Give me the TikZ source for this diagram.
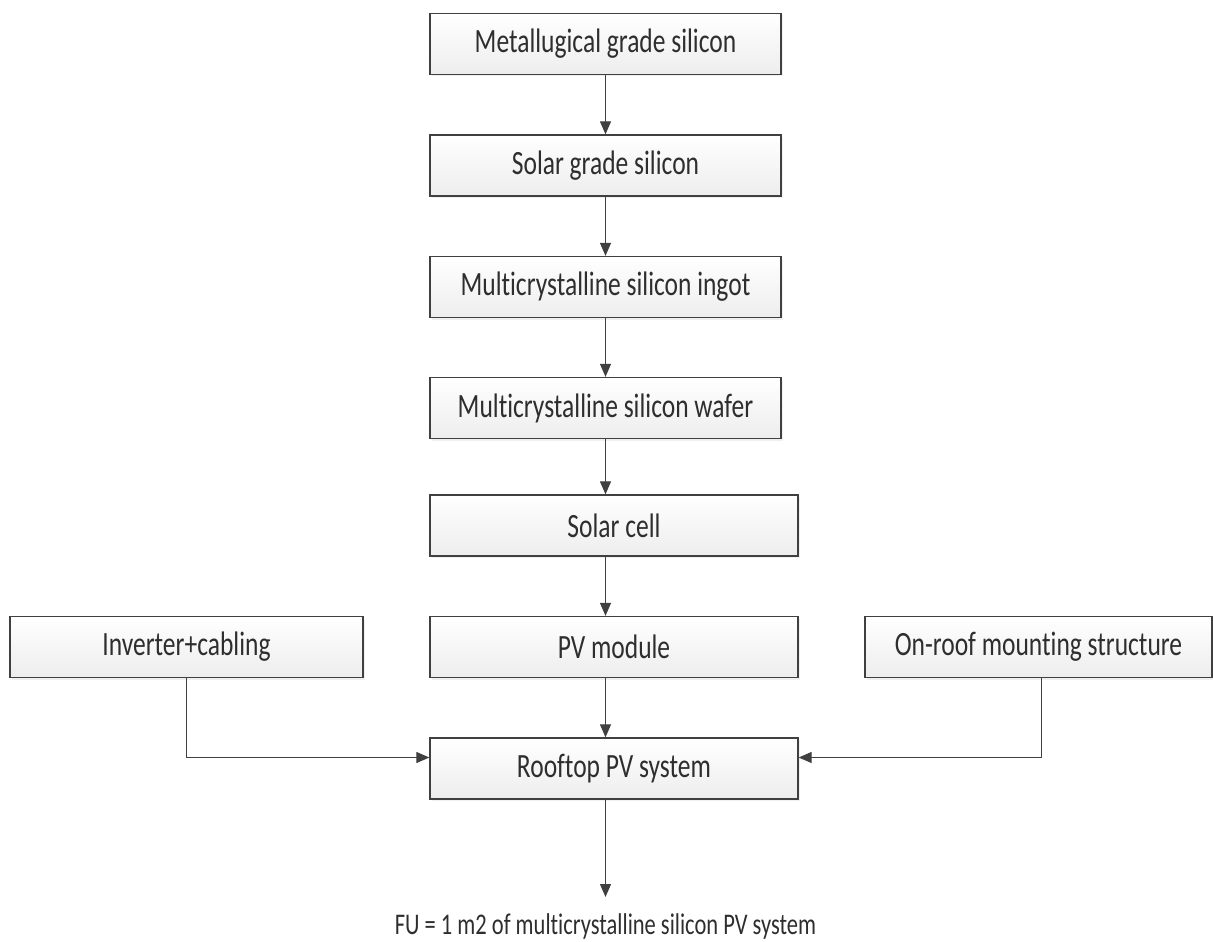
\documentclass[tikz,border=0pt]{standalone}
\usepackage{fontspec}
\setmainfont{Carlito}[Ligatures=NoCommon]
\newfontfamily\narrowfont{Carlito}[FakeStretch=0.75, Ligatures=NoCommon]
\usetikzlibrary{arrows.meta,positioning,shadows}
\definecolor{edgegray}{HTML}{404040}
\definecolor{textgray}{HTML}{2E2E2E}

\begin{document}
\begin{tikzpicture}[x=1pt,y=1pt,
  stage/.style={draw=edgegray, line width=1.3pt, top color=white, bottom color=gray!14,
    drop shadow={opacity=0.12, shadow xshift=2pt, shadow yshift=-2pt},
    minimum height=61pt, text=textgray, font=\narrowfont\fontsize{34}{36}\selectfont},
  flow/.style={draw=edgegray, line width=1.2pt, -{Triangle[length=13pt,width=11pt]}}]
    \useasboundingbox (0,0) rectangle (1213,-942);
    \node[stage, minimum width=351pt](mgs) at (605.5,-44){Metallugical grade silicon};
    \node[stage, minimum width=351pt](sgs) at (605.5,-165.5){Solar grade silicon};
    \node[stage, minimum width=351pt](ingot) at (605.5,-287){Multicrystalline silicon ingot};
    \node[stage, minimum width=351pt](wafer) at (605.5,-408){Multicrystalline silicon wafer};
    \node[stage, minimum width=368pt](cell) at (614,-525.5){Solar cell};
    \node[stage, minimum width=368pt](module) at (614,-647){PV module};
    \node[stage, minimum width=368pt](system) at (614,-768.5){Rooftop PV system};
    \node[stage, minimum width=353pt](inverter) at (186.5,-647){Inverter+cabling};
    \node[stage, minimum width=347pt](mounting) at (1038.5,-647){On-roof mounting structure};
    \node[text=textgray, font=\narrowfont\fontsize{30}{32}\selectfont, anchor=base](fu) at (605.5,-934)
        {FU = 1 m2 of multicrystalline silicon PV system};
    \coordinate (fuend) at (605.5,-897);
    \draw[flow] (mgs.south -| mgs) -- (sgs.north -| mgs);
    \draw[flow] (sgs.south -| mgs) -- (ingot.north -| mgs);
    \draw[flow] (ingot.south -| mgs) -- (wafer.north -| mgs);
    \draw[flow] (wafer.south -| mgs) -- (cell.north -| mgs);
    \draw[flow] (cell.south -| mgs) -- (module.north -| mgs);
    \draw[flow] (module.south -| mgs) -- (system.north -| mgs);
    \draw[flow] (inverter.south) |- ([yshift=11pt]system.west);
    \draw[flow] ([xshift=3pt]mounting.south) |- ([yshift=11pt]system.east);
    \draw[flow] (system.south -| mgs) -- (fuend);
\end{tikzpicture}
\end{document}
